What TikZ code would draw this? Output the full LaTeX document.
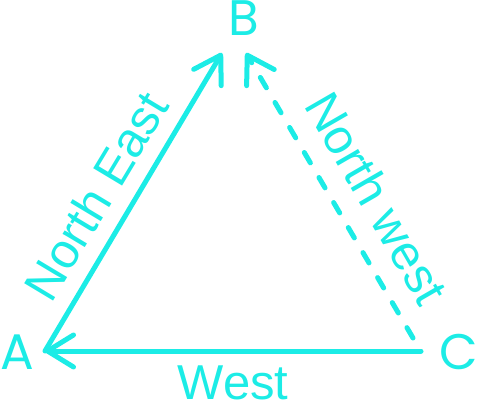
\documentclass[tikz,border=0pt]{standalone}
\usepackage{fontspec}
\setmainfont{Liberation Sans}
\newfontfamily\poppins{Poppins}
\usetikzlibrary{arrows.meta}
\definecolor{cy}{RGB}{28,236,230}
\tikzset{
  conn/.style={draw=cy, line width=5pt, line cap=round, line join=round,
    -{Straight Barb[length=26pt,width=32pt,round]}},
  dashconn/.style={conn, dash pattern=on 12pt off 17pt},
  letter/.style={text=cy, font=\poppins\fontsize{50}{50}\selectfont, inner sep=0pt},
  lab/.style={text=cy, font=\fontsize{49}{49}\selectfont, inner sep=0pt}
}
\begin{document}
\begin{tikzpicture}[x=1pt,y=-1pt]
\useasboundingbox (0,0) rectangle (477,405);
\node[letter] (A) at (17,352) {A};
\node[letter] (B) at (244,18) {B};
\node[letter] (C) at (459,352) {C};
\coordinate (pA) at (45,351);
\coordinate (pBl) at (222,53);
\coordinate (pBr) at (246,53);
\coordinate (pC) at (421,351);
\coordinate (pCd) at (413,338);
\draw[conn] (pC) -- (pA);
\draw[conn] (pA) -- (pBl);
\draw[dashconn] (pCd) -- (pBr);
\node[lab] (we) at (233,383) {West};
\node[lab, rotate=59] (ne) at (96,196) {North East};
\node[lab, rotate=-60] (nw) at (377,198) {North west};
\end{tikzpicture}
\end{document}
